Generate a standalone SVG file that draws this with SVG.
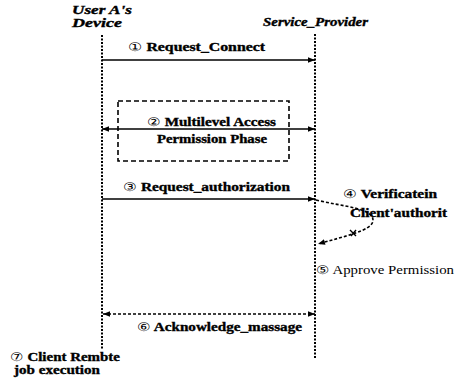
<svg xmlns="http://www.w3.org/2000/svg" width="468" height="380" viewBox="0 0 468 380">
  <style>
    .lbl { font-family: "Liberation Serif", "Times New Roman", serif; font-weight: bold; font-size: 12px; fill: #000; stroke: #000; stroke-width: 0.35; }
    .hdr { font-family: "Liberation Serif", "Times New Roman", serif; font-weight: bold; font-style: italic; font-size: 12px; fill: #000; stroke: #000; stroke-width: 0.35; }
    .reg { font-family: "Liberation Serif", "Times New Roman", serif; font-size: 12px; fill: #000; }
    .num { stroke: none; font-weight: normal; }
    .life { stroke: #000; stroke-width: 2; stroke-dasharray: 2 1.5; fill: none; }
    .msg { stroke: #000; stroke-width: 1.6; fill: none; }
    .dmsg { stroke: #000; stroke-width: 1.6; stroke-dasharray: 3 2; fill: none; }
  </style>
  <defs>
    <marker id="ah" viewBox="0 0 10 10" refX="10" refY="5" markerWidth="8" markerHeight="7" orient="auto-start-reverse" markerUnits="userSpaceOnUse">
      <path d="M0,1 L10,5 L0,9 Z" fill="#000"/>
    </marker>
  </defs>
  <rect width="468" height="380" fill="#fff"/>

  <!-- participants -->
  <g id="user-device">
    <text class="hdr" x="72" y="14" textLength="60" lengthAdjust="spacingAndGlyphs">User  A's</text>
    <text class="hdr" x="72" y="27" textLength="50" lengthAdjust="spacingAndGlyphs">Device</text>
    <line class="life" x1="102" y1="35" x2="102" y2="350"/>
  </g>
  <g id="service-provider">
    <text class="hdr" x="263" y="26" textLength="105" lengthAdjust="spacingAndGlyphs">Service_Provider</text>
    <line class="life" x1="315" y1="34" x2="315" y2="358"/>
  </g>

  <!-- access permission phase box -->
  <g id="permission-phase">
    <rect x="118" y="101" width="171" height="60" fill="none" stroke="#000" stroke-width="1.6" stroke-dasharray="5 3"/>
    <text class="lbl" x="147" y="126" textLength="129" lengthAdjust="spacingAndGlyphs"><tspan class="num">②</tspan> Multilevel Access</text>
    <text class="lbl" x="157" y="143" textLength="110" lengthAdjust="spacingAndGlyphs">Permission Phase</text>
  </g>

  <!-- messages -->
  <g id="connectors">
    <line class="msg" x1="102" y1="60" x2="315" y2="60" marker-end="url(#ah)"/>
    <line class="msg" x1="102" y1="129" x2="315" y2="129" marker-start="url(#ah)" marker-end="url(#ah)"/>
    <line class="msg" x1="102" y1="199" x2="315" y2="199" marker-end="url(#ah)"/>
    <path class="dmsg" d="M316,200 C345,207 374,208 373,221 C371,231 345,236 318,244" marker-end="url(#ah)"/>
    <path d="M350,230 L356,236 M356,230 L351,236" stroke="#000" stroke-width="1.4"/>
    <line class="dmsg" x1="103" y1="314" x2="315" y2="314" marker-start="url(#ah)" marker-end="url(#ah)"/>
  </g>

  <!-- step labels -->
  <g id="step1"><text class="lbl" x="128" y="51" textLength="137" lengthAdjust="spacingAndGlyphs"><tspan class="num">①</tspan> Request_Connect</text></g>
  <g id="step3"><text class="lbl" x="123" y="191" textLength="167" lengthAdjust="spacingAndGlyphs"><tspan class="num">③</tspan> Request_authorization</text></g>
  <g id="step4">
    <text class="lbl" x="343" y="198" textLength="94" lengthAdjust="spacingAndGlyphs"><tspan class="num">④</tspan> Verificatein</text>
    <text class="lbl" x="350" y="217" textLength="97" lengthAdjust="spacingAndGlyphs">Client'authorit</text>
  </g>
  <g id="step5"><text class="reg" x="316" y="274" textLength="138" lengthAdjust="spacingAndGlyphs">⑤ Approve Permission</text></g>
  <g id="step6"><text class="lbl" x="137" y="331" textLength="165" lengthAdjust="spacingAndGlyphs"><tspan class="num">⑥</tspan> Acknowledge_massage</text></g>
  <g id="step7">
    <text class="lbl" x="10" y="361" font-size="11" textLength="110" lengthAdjust="spacingAndGlyphs"><tspan class="num">⑦</tspan> Client Rembte</text>
    <text class="lbl" x="14" y="374" font-size="11" textLength="86" lengthAdjust="spacingAndGlyphs">job execution</text>
  </g>
</svg>
